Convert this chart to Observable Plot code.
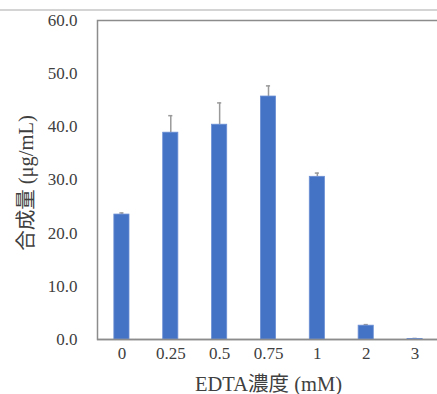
<!DOCTYPE html>
<html><head><meta charset="utf-8">
<script src="https://cdn.jsdelivr.net/npm/d3@7"></script>
<script src="https://cdn.jsdelivr.net/npm/@observablehq/plot@0.6"></script>
<style>
html,body{margin:0;padding:0;background:#fff;overflow:hidden;width:437px;height:394px;}
#topline{position:absolute;left:0;top:9px;width:437px;height:2px;background:#d4d4d4;}
#chart{position:absolute;left:0;top:0;width:437px;height:394px;overflow:hidden;}
#chart svg{max-width:none !important;}
#chart svg, #chart svg text{font-family:"Liberation Serif","Noto Sans CJK JP",serif !important;}
</style></head><body>
<div id="topline"></div>
<div id="chart"></div>
<script>
const concentrations = ["0","0.25","0.5","0.75","1","2","3"];
const amounts = [23.5, 38.9, 40.4, 45.7, 30.6, 2.6, 0.1];
const errors = [0.3, 3.2, 4.1, 2.0, 0.7, 0.2, 0.1];
const yTicks = [0,10,20,30,40,50,60];

const data = concentrations.map((c,i)=>({c, v: amounts[i], e: errors[i]}));

const chart = Plot.plot({
  width: 460, height: 394,
  marginLeft: 97, marginRight: 21, marginTop: 20, marginBottom: 55,
  style: {fontSize: "17px", color: "#404040", background: "transparent", overflow: "visible", maxWidth: "none"},
  x: {domain: concentrations, paddingInner: 0.69, paddingOuter: 0.345, round: false, label: null, tickSize: 0, tickPadding: 7},
  y: {domain: [0,60], ticks: yTicks, tickFormat: d=>d.toFixed(1), label: null, tickSize: 0, tickPadding: 20},
  marks: [
    Plot.frame({stroke: "#8c8c8c", strokeWidth: 1.5}),
    Plot.ruleX(data, {x: "c", y1: "v", y2: d=>d.v+d.e, stroke: "#9a9a9a", strokeWidth: 1.5}),
    Plot.tickY(data, {x: "c", y: d=>d.v+d.e, stroke: "#9a9a9a", strokeWidth: 1.5, insetLeft: 5.5, insetRight: 5.5}),
    Plot.barY(data, {x: "c", y: "v", fill: "#4472C4", stroke: "#6b8fd4", strokeWidth: 0.8}),
    Plot.ruleY([0], {stroke: "#8c8c8c", strokeWidth: 1.5}),
    Plot.text(["EDTA濃度 (mM)"], {frameAnchor: "bottom", textAnchor: "middle", dy: 51, fontSize: 20.5, fill: "#404040"}),
    Plot.text(["合成量 (μg/mL)"], {frameAnchor: "left", textAnchor: "middle", dx: -71, dy: 3, rotate: -90, fontSize: 20.5, fill: "#404040"})
  ]
});
document.getElementById("chart").appendChild(chart);
</script>
</body></html>
